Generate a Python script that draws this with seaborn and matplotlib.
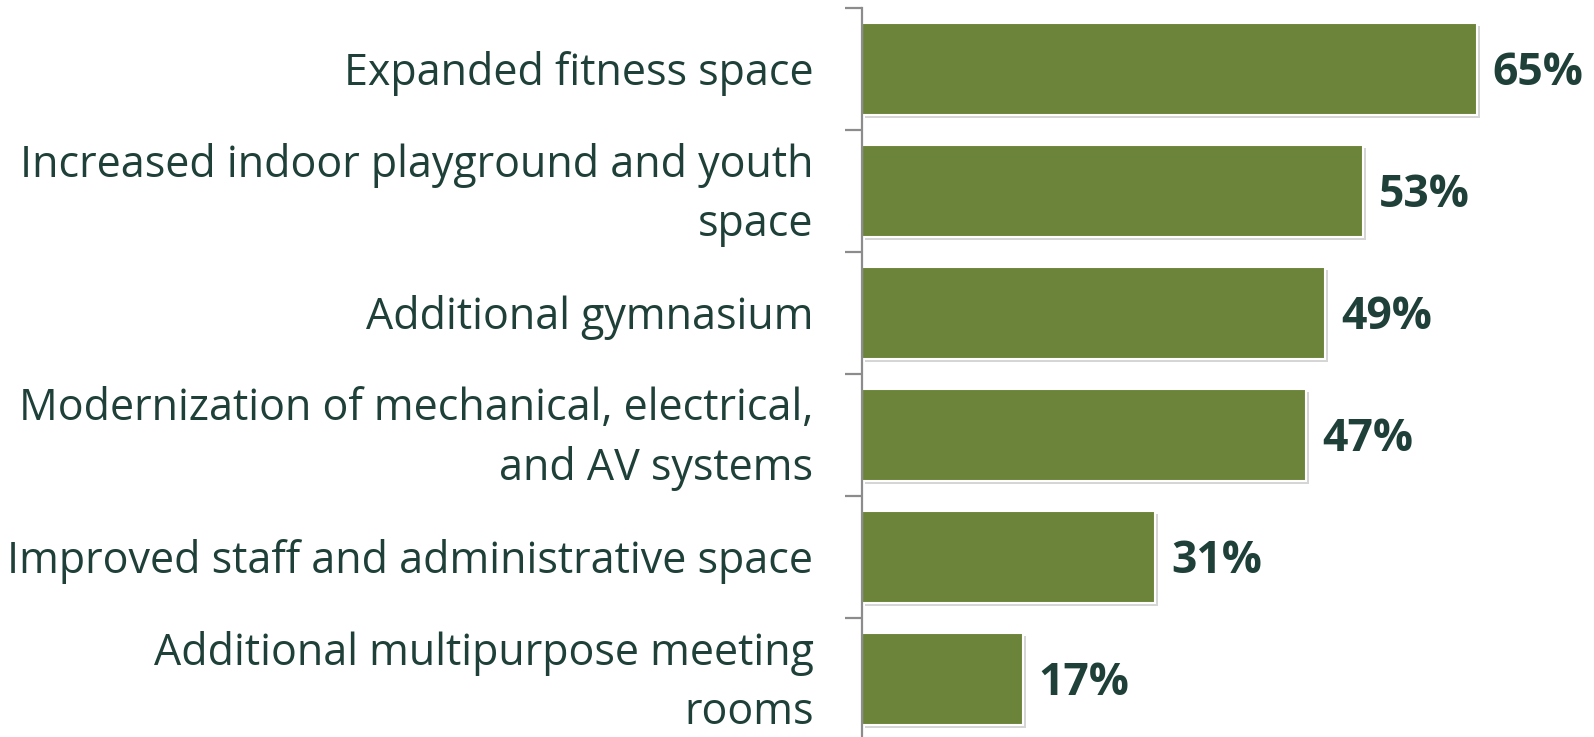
import matplotlib
matplotlib.use("Agg")
import matplotlib.pyplot as plt
import matplotlib.patheffects as pe
import matplotlib.transforms as mtransforms
import seaborn as sns
import pandas as pd
import numpy as np

categories = [
    "Expanded fitness space",
    "Increased indoor playground and youth\nspace",
    "Additional gymnasium",
    "Modernization of mechanical, electrical,\nand AV systems",
    "Improved staff and administrative space",
    "Additional multipurpose meeting\nrooms",
]
percent = [65, 53, 49, 47, 31, 17]

bar_color = "#6b8439"
text_color = "#1e4038"
axis_color = "#8c8c8c"

sns.set_theme(style="white")
plt.rcParams["font.family"] = ["Open Sans", "DejaVu Sans"]

df = pd.DataFrame({"item": categories, "pct": percent})

fig = plt.figure(figsize=(15.94, 7.37), dpi=100)
ax = fig.add_axes([862 / 1594, -3 / 737, 1 - 862 / 1594, 732 / 737])

sns.barplot(data=df, x="pct", y="item", color=bar_color, saturation=1,
            width=0.75, ax=ax, edgecolor="white", linewidth=1.5)

# soft drop shadow like the original office chart
for p in ax.patches:
    p.set_path_effects([pe.SimplePatchShadow(offset=(2, -2), alpha=0.35, shadow_rgbFace="#888888"),
                        pe.Normal()])

for i, v in enumerate(percent):
    ax.text(v + 1.7, i + 0.04, f"{v}%", va="center", ha="left", fontsize=32,
            fontweight="bold", color=text_color)

ax.set_xlim(0, 77.4)
ax.set_ylim(len(categories) - 0.5, -0.5)
ax.set_xlabel("")
ax.set_ylabel("")
ax.set_xticks([])

sns.despine(ax=ax, top=True, right=True, bottom=True, left=False)
ax.spines["left"].set_color(axis_color)
ax.spines["left"].set_linewidth(1.6)

ax.set_yticks(range(len(categories)))
ax.set_yticklabels(categories, fontsize=31, color=text_color, linespacing=1.45, va="center")
ax.tick_params(axis="y", which="major", length=0, pad=35)
ax.set_yticks(np.arange(-0.5, len(categories), 1.0), minor=True)
ax.tick_params(axis="y", which="minor", length=12, width=1.6, color=axis_color, left=True)

# nudge the category labels down a little
shift = mtransforms.ScaledTranslation(0, -4 / 100, fig.dpi_scale_trans)
for lbl in ax.get_yticklabels():
    lbl.set_transform(lbl.get_transform() + shift)

fig.savefig("out.png", dpi=100)
